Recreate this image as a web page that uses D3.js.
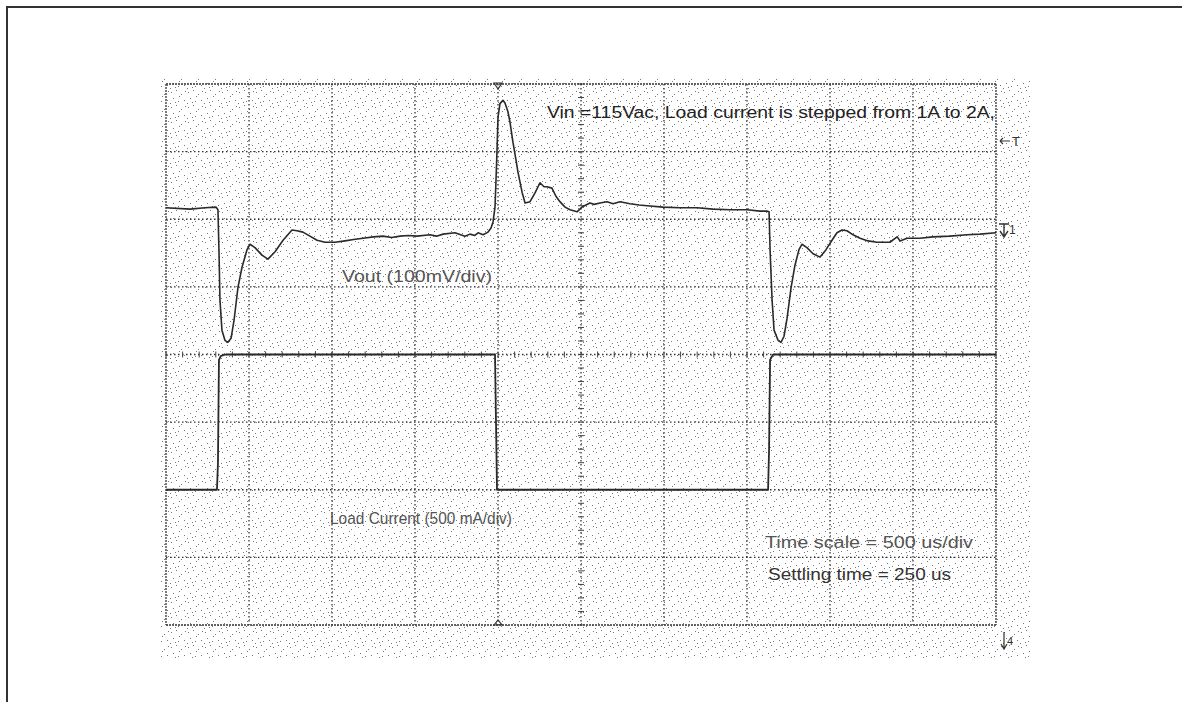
<!DOCTYPE html>
<html>
<head>
<meta charset="utf-8">
<script src="https://cdn.jsdelivr.net/npm/d3@7.9.0/dist/d3.min.js"></script>
<style>
  body { margin: 0; background: #fff; overflow: hidden; }
  svg { display: block; font-family: "Liberation Sans", Arial, sans-serif; }
</style>
</head>
<body>
<svg id="scope" width="1182" height="702"></svg>
<script>
// Vout trace: time (us, 500 us/div) and level (mV above screen centre, 100 mV/div)
const voutTime = [0, 145, 235, 301, 313, 319, 325, 337, 355, 373, 392, 410, 434, 458, 488, 506, 536, 578, 614, 657, 705, 759, 789, 825, 867, 910, 958, 1018, 1078, 1130, 1187, 1250, 1307, 1360, 1410, 1460, 1512, 1590, 1630, 1669, 1741, 1775, 1801, 1831, 1860, 1880, 1910, 1940, 1958, 1970, 1982, 1988, 1994, 2000, 2012, 2030, 2042, 2060, 2072, 2090, 2108, 2120, 2145, 2163, 2193, 2223, 2253, 2277, 2295, 2325, 2349, 2373, 2404, 2434, 2476, 2506, 2530, 2554, 2580, 2614, 2657, 2693, 2735, 2795, 2850, 2898, 2994, 3096, 3199, 3295, 3398, 3500, 3578, 3620, 3633, 3639, 3651, 3663, 3687, 3705, 3723, 3741, 3765, 3789, 3813, 3831, 3861, 3898, 3940, 3976, 4012, 4042, 4072, 4102, 4139, 4181, 4229, 4283, 4361, 4404, 4422, 4464, 4542, 4620, 4723, 4825, 4904, 5000];
const voutMv   = [217, 215, 217, 218, 214, 155, 81, 36, 21, 18, 24, 51, 100, 129, 155, 163, 158, 147, 141, 152, 169, 184, 183, 181, 175, 169, 166, 166, 168, 170, 172, 174, 175, 173, 175, 176, 175, 177, 175, 178, 180, 177, 175, 178, 176, 180, 177, 181, 187, 196, 218, 258, 302, 351, 371, 376, 372, 359, 344, 314, 288, 270, 240, 224, 226, 239, 254, 248, 248, 246, 234, 226, 218, 214, 211, 218, 221, 224, 222, 224, 226, 223, 226, 223, 221, 220, 218, 217, 217, 215, 214, 214, 212, 212, 211, 155, 81, 36, 21, 18, 27, 53, 98, 132, 155, 163, 158, 149, 144, 155, 169, 180, 184, 183, 177, 172, 168, 166, 166, 174, 168, 172, 172, 174, 175, 177, 178, 180];

// Load current trace: time (us) and current (A, 500 mA/div, 2 A at centre)
const loadTime = [0, 307, 313, 319, 331, 361, 1982, 1988, 1994, 3627, 3633, 3639, 3657, 5000];
const loadAmps = [1.0, 1.0, 1.2, 1.96, 1.99, 2.0, 2.0, 1.5, 1.0, 1.0, 1.3, 1.96, 2.0, 2.0];

const timeDomain = [0, 5000];     // 10 div x 500 us
const voutDomain = [-400, 400];   // 8 div x 100 mV
const ampsDomain = [0, 4];        // 8 div x 500 mA

const notes = [
  { text: "Vin =115Vac, Load current is stepped from 1A to 2A,", x: 547, y: 118, len: 448, size: 16, color: "#222" },
  { text: "Vout (100mV/div)", x: 342, y: 282, len: 150, size: 16, color: "#555" },
  { text: "Load Current (500 mA/div)", x: 330, y: 524, len: 182, size: 17, color: "#555" },
  { text: "Time scale = 500 us/div", x: 765, y: 548, len: 208, size: 16, color: "#555" },
  { text: "Settling time = 250 us", x: 768, y: 580, len: 183, size: 16, color: "#333" }
];

// ---------- layout ----------
const svg = d3.select('#scope');
const gx0 = 166, gx1 = 996, gy0 = 84, gy1 = 625;

const x = d3.scaleLinear().domain(timeDomain).range([gx0, gx1]);
const yV = d3.scaleLinear().domain(voutDomain).range([gy1, gy0]);
const yI = d3.scaleLinear().domain(ampsDomain).range([gy1, gy0]);

// outer frame of the figure
svg.append('rect')
  .attr('x', 7).attr('y', 7).attr('width', 1200).attr('height', 720)
  .attr('fill', 'none').attr('stroke', '#333').attr('stroke-width', 2);

// stippled screen texture
const defs = svg.append('defs');
const pat = defs.append('pattern')
  .attr('id', 'stip').attr('patternUnits', 'userSpaceOnUse')
  .attr('width', 17).attr('height', 15);
[[1, 2], [6, 0], [11, 4], [3, 8], [14, 10], [8, 11], [0, 13], [15, 1], [9, 6], [5, 12]].forEach(([px, py]) => {
  pat.append('rect').attr('x', px).attr('y', py).attr('width', 1).attr('height', 1).attr('fill', '#777');
});
svg.append('rect')
  .attr('x', 160).attr('y', 78).attr('width', 870).attr('height', 580)
  .attr('fill', 'url(#stip)');

// grid
const grid = svg.append('g');
x.ticks(10).forEach((t) => {
  grid.append('line')
    .attr('x1', x(t)).attr('x2', x(t)).attr('y1', gy0).attr('y2', gy1)
    .attr('stroke', '#333').attr('stroke-width', 1.3)
    .attr('stroke-dasharray', (t === 0 || t === 5000) ? '2,1' : '1.5,2.5');
});
yV.ticks(8).forEach((v) => {
  grid.append('line')
    .attr('x1', gx0).attr('x2', gx1).attr('y1', yV(v)).attr('y2', yV(v))
    .attr('stroke', '#333').attr('stroke-width', 1.3)
    .attr('stroke-dasharray', (v === -400 || v === 400) ? '2,1' : '1.5,2.5');
});

// minor ticks on the centre axes
d3.range(0, 5001, 100).forEach((t) => {
  grid.append('line')
    .attr('x1', x(t)).attr('x2', x(t)).attr('y1', yV(0) - 3).attr('y2', yV(0) + 3)
    .attr('stroke', '#444').attr('stroke-width', 1);
});
d3.range(-400, 401, 20).forEach((v) => {
  grid.append('line')
    .attr('x1', x(2500) - 3).attr('x2', x(2500) + 3).attr('y1', yV(v)).attr('y2', yV(v))
    .attr('stroke', '#444').attr('stroke-width', 1);
});

// traces
const voutLine = d3.line().x((d, i) => x(voutTime[i])).y((d) => yV(d));
const loadLine = d3.line().x((d, i) => x(loadTime[i])).y((d) => yI(d));

svg.append('path')
  .attr('d', voutLine(voutMv))
  .attr('fill', 'none').attr('stroke', '#2a2a2a').attr('stroke-width', 1.6)
  .attr('stroke-linejoin', 'round');
svg.append('path')
  .attr('d', loadLine(loadAmps))
  .attr('fill', 'none').attr('stroke', '#2a2a2a').attr('stroke-width', 1.8)
  .attr('stroke-linejoin', 'round');

// annotations
notes.forEach((n) => {
  svg.append('text')
    .attr('x', n.x).attr('y', n.y)
    .attr('font-size', n.size)
    .attr('fill', n.color)
    .attr('textLength', n.len).attr('lengthAdjust', 'spacingAndGlyphs')
    .text(n.text);
});

// scope markers
const mk = svg.append('g').attr('fill', '#333');
mk.append('path').attr('d', 'M1000,141 h10 M1000,141 l3,-3 M1000,141 l3,3')
  .attr('fill', 'none').attr('stroke', '#333').attr('stroke-width', 1.1);
mk.append('text').attr('x', 1012).attr('y', 146).attr('font-size', 13).text('T');
mk.append('text').attr('x', 1009).attr('y', 234).attr('font-size', 12).text('1');
mk.append('path').attr('d', 'M999,224 h10 M1004,224 v12 M1000,231 l4,6 l4,-6')
  .attr('fill', 'none').attr('stroke', '#333').attr('stroke-width', 1.4);
mk.append('path').attr('d', 'M1004,632 v16 M1001,644 l3,5 l3,-5')
  .attr('fill', 'none').attr('stroke', '#333').attr('stroke-width', 1.2);
mk.append('text').attr('x', 1007).attr('y', 645).attr('font-size', 11).text('4');
mk.append('path').attr('d', `M${x(2000) - 4},${gy0 - 1} l4,6 l4,-6 z`)
  .attr('fill', 'none').attr('stroke', '#333').attr('stroke-width', 1.2);
mk.append('path').attr('d', `M${x(2000) - 4},${gy1} l4,-5 l4,5 z`)
  .attr('fill', 'none').attr('stroke', '#333').attr('stroke-width', 1.2);
</script>
</body>
</html>
